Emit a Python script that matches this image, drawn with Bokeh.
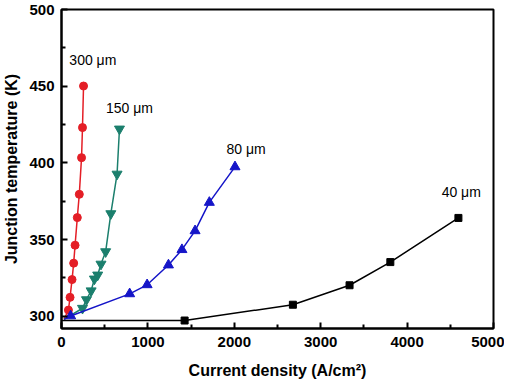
from bokeh.plotting import figure
from bokeh.embed import file_html
from bokeh.resources import INLINE
from bokeh.models import Range1d, FixedTicker, Label

FONT = "Liberation Sans"

# 300 um (red circles)
x300 = [30, 80, 99, 122, 141, 157, 183, 206, 232, 243, 255]
y300 = [298, 304, 312.3, 323.9, 334.6, 346.3, 364.3, 379.5, 403.4, 423, 450.1]
# 150 um (teal down-triangles)
x150 = [30, 243, 289, 343, 381, 419, 457, 511, 571, 643, 671]
y150 = [298, 305.2, 310.8, 316.6, 324.3, 326.9, 334, 342.1, 366.9, 392.7, 422.1]
# 80 um (blue up-triangles)
x80 = [30, 106, 789, 991, 1238, 1394, 1546, 1711, 2008]
y80 = [298, 300.2, 314.6, 320.5, 333.4, 343.4, 355.7, 374.2, 397.4]
# 40 um (black squares)
x40 = [0, 1425, 2678, 3334, 3806, 4594]
y40 = [297.2, 297.2, 307.5, 320.2, 335.3, 364.1]

labels = ["300 \u03bcm", "150 \u03bcm", "80 \u03bcm", "40 \u03bcm"]
label_x = [91, 514, 1909, 4400]
label_y = [467, 435.5, 409, 381]

xticks = [0, 1000, 2000, 3000, 4000, 5000]
yticks = [300, 350, 400, 450, 500]

p = figure(width=504, height=382, output_backend="svg", toolbar_location=None,
           x_range=Range1d(0, 5000), y_range=Range1d(292, 500),
           min_border_left=51, min_border_right=11, min_border_top=9, min_border_bottom=54)
p.grid.visible = False
p.background_fill_color = "white"
p.border_fill_color = "white"
p.outline_line_color = "black"
p.outline_line_width = 2

for ax in (p.xaxis[0], p.yaxis[0]):
    ax.axis_line_width = 2
    ax.axis_line_color = "black"
    ax.major_tick_in = 6
    ax.major_tick_out = 0
    ax.minor_tick_in = 4
    ax.minor_tick_out = 0
    ax.major_tick_line_width = 2
    ax.minor_tick_line_width = 2
    ax.major_label_text_font = FONT
    ax.major_label_text_font_style = "bold"
    ax.major_label_text_font_size = "15px"
    ax.major_label_text_color = "black"
    ax.axis_label_text_font = FONT
    ax.axis_label_text_font_style = "bold"
    ax.axis_label_text_font_size = "16px"
    ax.axis_label_text_color = "black"

p.xaxis.ticker = FixedTicker(ticks=xticks, minor_ticks=[500, 1500, 2500, 3500, 4500])
p.yaxis.ticker = FixedTicker(ticks=yticks, minor_ticks=[325, 375, 425, 475])
p.xaxis.major_label_standoff = 8
p.yaxis.major_label_standoff = 7
p.xaxis.axis_label = "Current density (A/cm\u00b2)"
p.yaxis.axis_label = "Junction temperature (K)"
p.xaxis.axis_label_standoff = 12
p.yaxis.axis_label_standoff = 6

red = "#e41e26"
teal = "#1b7f6d"
blue = "#1515c8"

p.line(x300, y300, line_color=red, line_width=1.5)
p.scatter(x300[1:], y300[1:], marker="circle", size=8, color=red)
p.line(x150, y150, line_color=teal, line_width=1.5)
p.scatter(x150[1:], y150[1:], marker="inverted_triangle", size=10, color=teal)
p.line(x80, y80, line_color=blue, line_width=1.5)
p.scatter(x80[1:], y80[1:], marker="triangle", size=10, color=blue)
p.line(x40, y40, line_color="black", line_width=1.5)
p.scatter(x40[1:], y40[1:], marker="square", size=7, color="black")

for t, lx, ly in zip(labels, label_x, label_y):
    p.add_layout(Label(x=lx, y=ly, text=t, text_font=FONT, text_font_size="14px",
                       text_color="black", text_baseline="middle", text_align="left"))

open("out.html", "w").write(file_html(p, INLINE))
